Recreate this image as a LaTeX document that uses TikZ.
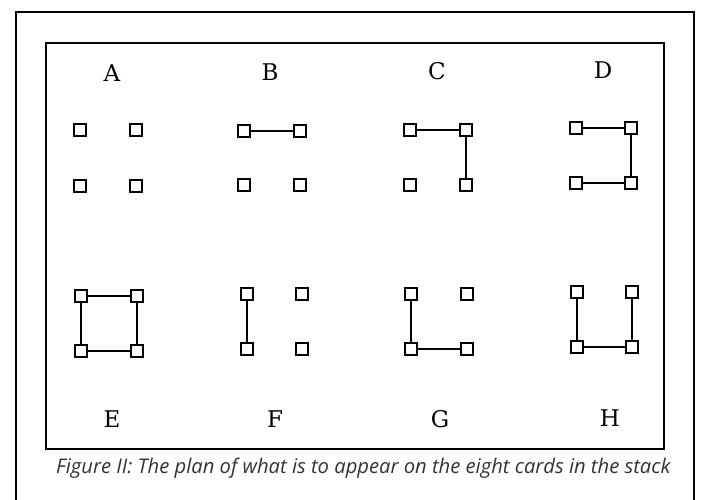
\documentclass[tikz,border=0pt]{standalone}
\usepackage{fontspec}
\newfontfamily\letterfont{DejaVu Serif}
\newfontfamily\capfont{Open Sans}
\begin{document}
\begin{tikzpicture}[x=1pt,y=-1pt,
  sq/.style={draw, line width=2.2pt, minimum size=12.5pt, inner sep=0pt, fill=white},
  conn/.style={line width=2pt},
  frame/.style={line width=2pt},
  letter/.style={font=\letterfont\fontsize{23}{23}\selectfont, inner sep=0pt},
  caption/.style={font=\capfont\itshape\fontsize{20.2}{21}\selectfont, text=black!80, inner sep=0pt, anchor=west}]
\useasboundingbox (0,0) rectangle (701,500);
\fill[white] (0,0) rectangle (701,500);
% frames
\draw[frame] (16,505) -- (16,12) -- (694,12) -- (694,505);
\draw[frame] (46,43) rectangle (664,449);
% cards: name / x-left / x-right / y-top / y-bottom
\foreach \n/\xa/\xb/\ya/\yb in {A/80/136/130/186, B/244/300/131/185, C/410/466/130/185, D/576/631/128/183,
                                E/81/137/296/351, F/247/302/294/349, G/411/467/294/349, H/577/632/292/347}{
  \coordinate (\n p1) at (\xa,\ya);
  \coordinate (\n p2) at (\xb,\ya);
  \coordinate (\n p3) at (\xa,\yb);
  \coordinate (\n p4) at (\xb,\yb);
}
% connectors (drawn first, squares on top)
\foreach \a/\b in {Bp1/Bp2, Cp1/Cp2, Cp2/Cp4, Dp1/Dp2, Dp2/Dp4, Dp4/Dp3,
                   Ep1/Ep2, Ep2/Ep4, Ep4/Ep3, Ep3/Ep1, Fp1/Fp3, Gp1/Gp3, Gp3/Gp4,
                   Hp1/Hp3, Hp3/Hp4, Hp4/Hp2}{
  \draw[conn] (\a) -- (\b);
}
\foreach \n in {A,B,C,D,E,F,G,H}{
  \foreach \i in {1,2,3,4}{
    \node[sq] (\n\i) at (\n p\i) {};
  }
}
% letters
\node[letter] (lA) at (112,73) {A};
\node[letter] (lB) at (270,72) {B};
\node[letter] (lC) at (437,71) {C};
\node[letter] (lD) at (603,70) {D};
\node[letter] (lE) at (112,419) {E};
\node[letter] (lF) at (275,419) {F};
\node[letter] (lG) at (440,419) {G};
\node[letter] (lH) at (610,418) {H};
% caption
\node[caption] (cap) at (56,468) {Figure II: The plan of what is to appear on the eight cards in the stack};
\end{tikzpicture}
\end{document}
